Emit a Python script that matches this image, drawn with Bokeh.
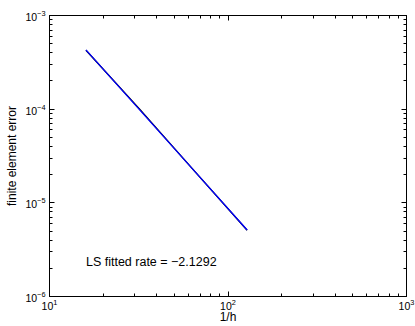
import numpy as np
from bokeh.plotting import figure
from bokeh.models import LogAxis, Range1d, FixedTicker, LogTickFormatter
from bokeh.core.properties import value
from bokeh.embed import file_html
from bokeh.resources import INLINE

# data
inv_h = [16, 32, 64, 128]
fe_error = [4.25e-4, 1.0e-4, 2.25e-5, 5.1e-6]
rate_label = "LS fitted rate = \u22122.1292"
label_pos_x = [16]
label_pos_y = [2.36e-6]
x_major = [10, 100, 1000]
y_major = [1e-6, 1e-5, 1e-4, 1e-3]

# least-squares fit (blue line)
coef = np.polyfit(np.log10(inv_h), np.log10(fe_error), 1)
fit_vals = list(10 ** np.polyval(coef, np.log10(inv_h)))

def minors(majors):
    out = []
    for m in majors[:-1]:
        out += [m * k for k in range(2, 10)]
    return out

FONT = "Liberation Sans"

p = figure(width=415, height=326, x_axis_type="log", y_axis_type="log",
           x_range=Range1d(10, 1000), y_range=Range1d(1e-6, 1e-3),
           output_backend="svg", toolbar_location=None,
           min_border_left=49, min_border_right=9, min_border_top=15, min_border_bottom=29)
p.outline_line_color = "black"
p.outline_line_width = 1
p.xgrid.visible = False
p.ygrid.visible = False
p.background_fill_color = "white"
p.border_fill_color = "white"

p.line(inv_h, fe_error, line_color="black", line_width=1.3)
p.line(inv_h, fit_vals, line_color="blue", line_width=1.3)
p.text(x=label_pos_x, y=label_pos_y, text=[rate_label], text_font=value(FONT),
       text_font_size="12.5px", text_baseline="middle", text_align="left", text_color="black")

def style(ax, majors, labels=True):
    ax.ticker = FixedTicker(ticks=majors, minor_ticks=minors(majors))
    ax.formatter = LogTickFormatter()
    ax.axis_line_color = "black"
    ax.major_tick_in = 5
    ax.major_tick_out = 0
    ax.minor_tick_in = 3
    ax.minor_tick_out = 0
    ax.major_tick_line_color = "black"
    ax.minor_tick_line_color = "black"
    ax.major_label_text_font = FONT
    ax.major_label_text_font_size = "10.5px"
    ax.major_label_text_color = "black"
    ax.axis_label_text_font = FONT
    ax.axis_label_text_font_size = "12px"
    ax.axis_label_text_font_style = "normal"
    ax.axis_label_text_color = "black"
    if not labels:
        ax.major_label_text_font_size = "0px"
        ax.major_label_text_alpha = 0

style(p.xaxis[0], x_major)
style(p.yaxis[0], y_major)
p.xaxis[0].axis_label = "1/h"
p.yaxis[0].axis_label = "finite element error"
p.xaxis[0].major_label_standoff = 2
p.xaxis[0].axis_label_standoff = -3
p.yaxis[0].major_label_standoff = 4
p.yaxis[0].axis_label_standoff = 3

top = LogAxis()
style(top, x_major, labels=False)
top.major_label_standoff = 0
right = LogAxis()
style(right, y_major, labels=False)
right.major_label_standoff = 0
p.add_layout(top, "above")
p.add_layout(right, "right")

open("out.html", "w").write(file_html(p, INLINE))
